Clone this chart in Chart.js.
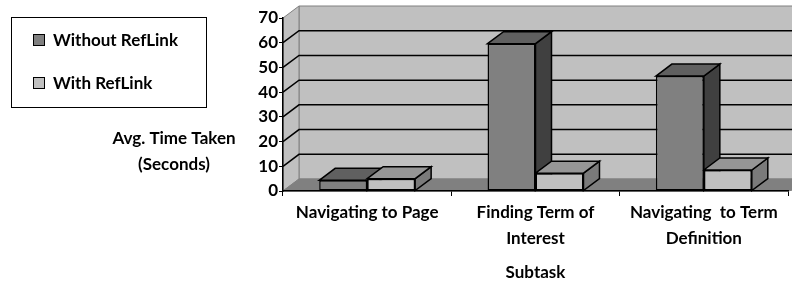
<!DOCTYPE html>
<html>
<head>
<meta charset="utf-8">
<script src="https://cdn.jsdelivr.net/npm/chart.js@4"></script>
<style>
  html, body { margin: 0; padding: 0; background: #ffffff; }
  #wrap { width: 792px; height: 284px; position: relative; }
</style>
</head>
<body>
<div id="wrap"><canvas id="c" width="792" height="284"></canvas></div>
<script>
// ---- data ----
const categories = [
  ['Navigating to Page'],
  ['Finding Term of', 'Interest'],
  ['Navigating  to Term', 'Definition']
];
const seriesNames = ['Without RefLink', 'With RefLink'];
const withoutRefLink = [4.3, 59.6, 46.5];
const withRefLink = [5.0, 7.2, 8.5];
const yTitleLines = ['Avg. Time Taken', '(Seconds)'];
const xTitle = 'Subtask';

// ---- styles ----
const FONT = 'Lato';
const FS = 17;
const DX = 16, DY = -12;   // 3D depth offset
const faces = [
  { front: '#808080', top: '#606060', side: '#404040' },
  { front: '#c0c0c0', top: '#969696', side: '#7a7a7a' }
];

Chart.defaults.font.family = FONT;
Chart.defaults.font.size = FS;
Chart.defaults.font.weight = 'bold';
Chart.defaults.color = '#000';

function poly(ctx, pts, fill, stroke, lw) {
  ctx.beginPath();
  ctx.moveTo(pts[0][0], pts[0][1]);
  for (let i = 1; i < pts.length; i++) ctx.lineTo(pts[i][0], pts[i][1]);
  ctx.closePath();
  if (fill) { ctx.fillStyle = fill; ctx.fill(); }
  if (stroke) { ctx.strokeStyle = stroke; ctx.lineWidth = lw || 1; ctx.stroke(); }
}

const threeD = {
  id: 'threeD',
  beforeDraw(chart) {
    const ctx = chart.ctx;
    const a = chart.chartArea;
    const ys = chart.scales.y;
    const L = a.left, R = a.right + 40, T = a.top, B = a.bottom;
    ctx.save();
    // back wall
    poly(ctx, [[L + DX, T + DY], [R + DX, T + DY], [R + DX, B + DY], [L + DX, B + DY]], '#c0c0c0', '#808080', 1);
    // side wall
    poly(ctx, [[L, B], [L + DX, B + DY], [L + DX, T + DY], [L, T]], '#c0c0c0', '#808080', 1);
    // floor
    poly(ctx, [[L, B], [L + DX, B + DY], [R + DX, B + DY], [a.right, B]], '#808080', '#808080', 1);
    // gridlines on wall
    ctx.strokeStyle = '#000';
    ctx.lineWidth = 1.5;
    ys.ticks.forEach(t => {
      if (t.value <= 0 || t.value >= ys.max) return;
      const y = ys.getPixelForValue(t.value);
      ctx.beginPath();
      ctx.moveTo(L, y);
      ctx.lineTo(L + DX, y + DY);
      ctx.lineTo(R + DX, y + DY);
      ctx.stroke();
    });
    ctx.restore();
  },
  beforeDatasetsDraw(chart) {
    const ctx = chart.ctx;
    ctx.save();
    ctx.lineJoin = 'miter';
    const n = chart.data.labels.length;
    for (let i = 0; i < n; i++) {
      chart.data.datasets.forEach((ds, di) => {
        const el = chart.getDatasetMeta(di).data[i];
        const p = el.getProps(['x', 'y', 'base', 'width'], true);
        const x1 = p.x - p.width / 2, x2 = p.x + p.width / 2;
        const yt = p.y, yb = p.base;
        const f = faces[di];
        poly(ctx, [[x2, yt], [x2 + DX, yt + DY], [x2 + DX, yb + DY], [x2, yb]], f.side, '#000', 1.5);
        poly(ctx, [[x1, yt], [x1 + DX, yt + DY], [x2 + DX, yt + DY], [x2, yt]], f.top, '#000', 1.5);
      });
    }
    ctx.restore();
  },
  afterDraw(chart) {
    const ctx = chart.ctx;
    ctx.save();
    // legend
    ctx.strokeStyle = '#000';
    ctx.lineWidth = 1;
    ctx.strokeRect(11.5, 17.5, 195, 90);
    const rows = [41, 84];
    ctx.font = 'bold ' + FS + 'px ' + FONT;
    ctx.textBaseline = 'middle';
    ctx.textAlign = 'left';
    chart.data.datasets.forEach((ds, di) => {
      const cy = rows[di];
      ctx.fillStyle = faces[di].front;
      ctx.fillRect(33.5, cy - 6.5, 11, 11);
      ctx.strokeRect(33.5, cy - 6.5, 11, 11);
      ctx.fillStyle = '#000';
      ctx.fillText(ds.label, 53, cy);
    });
    // y-axis title (horizontal, two lines)
    ctx.textAlign = 'center';
    ctx.fillText(yTitleLines[0], 174, 139);
    ctx.fillText(yTitleLines[1], 174, 165);
    ctx.restore();
  }
};

new Chart(document.getElementById('c'), {
  type: 'bar',
  data: {
    labels: categories,
    datasets: [
      { label: seriesNames[0], data: withoutRefLink, backgroundColor: faces[0].front, borderColor: '#000', borderWidth: 1.5, borderSkipped: false },
      { label: seriesNames[1], data: withRefLink, backgroundColor: faces[1].front, borderColor: '#000', borderWidth: 1.5, borderSkipped: false }
    ]
  },
  options: {
    responsive: false,
    devicePixelRatio: 1,
    animation: false,
    layout: { padding: { left: 0, right: 4, top: 18, bottom: 0 } },
    plugins: { legend: { display: false }, tooltip: { enabled: false } },
    datasets: { bar: { categoryPercentage: 0.57, barPercentage: 1.0 } },
    scales: {
      x: {
        grid: { offset: true, drawOnChartArea: false, drawTicks: true, tickLength: 5, color: '#000', lineWidth: 1 },
        border: { display: true, color: '#000', width: 1.5 },
        ticks: { font: { size: FS, weight: 'bold', lineHeight: 26 / FS }, padding: 4, maxRotation: 0, autoSkip: false, color: '#000' },
        title: { display: true, text: xTitle, font: { size: FS, weight: 'bold', lineHeight: 1.4 }, padding: { top: 0, bottom: 0 }, color: '#000' },
        afterFit(s) { s.height = 93; }
      },
      y: {
        min: 0, max: 70,
        grid: { drawOnChartArea: false, drawTicks: true, tickLength: 4, color: '#000', lineWidth: 1 },
        border: { display: true, color: '#000', width: 1.5 },
        ticks: { stepSize: 10, font: { size: FS, weight: 'bold' }, padding: 1, color: '#000' },
        afterFit(s) { s.width = 283; }
      }
    }
  },
  plugins: [threeD]
});
</script>
</body>
</html>
